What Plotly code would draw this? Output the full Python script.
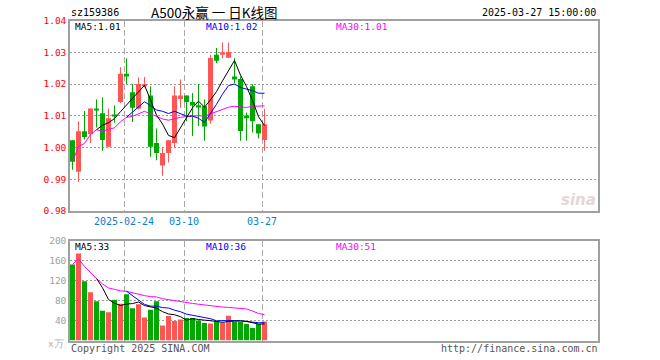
import plotly.graph_objects as go

# ---------------- data ----------------
candle_idx = list(range(33))
opens = [1.0023, 0.9924, 1.0051, 1.0042, 1.0121, 1.0108, 1.0002, 1.0101, 1.0143, 1.0232,
         1.0174, 1.0123, 1.0193, 1.0164, 1.0014, 0.9943, 0.9983, 1.0014, 1.0153, 1.0164,
         1.0143, 1.0132, 1.0130, 1.0085, 1.0292, 1.0292, 1.0283, 1.0224, 1.0216, 1.0101,
         1.0193, 1.0073, 1.0024]
highs = [1.0023, 1.0083, 1.0115, 1.0123, 1.0151, 1.0158, 1.0123, 1.0133, 1.0253, 1.0281,
         1.0200, 1.0221, 1.0222, 1.0193, 1.0060, 1.0000, 1.0023, 1.0193, 1.0214, 1.0164,
         1.0172, 1.0200, 1.0151, 1.0292, 1.0313, 1.0331, 1.0331, 1.0281, 1.0224, 1.0110,
         1.0199, 1.0073, 1.0122]
lows = [0.9930, 0.9891, 1.0025, 1.0013, 1.0063, 0.9990, 1.0002, 1.0078, 1.0140, 1.0200,
        1.0080, 1.0120, 1.0190, 0.9971, 0.9960, 0.9911, 0.9953, 1.0000, 1.0125, 1.0083,
        1.0036, 1.0068, 1.0021, 1.0075, 1.0265, 1.0281, 1.0283, 1.0203, 1.0021, 1.0021,
        1.0047, 1.0028, 0.9990]
closes = [0.9955, 1.0051, 1.0033, 1.0123, 1.0118, 1.0024, 1.0092, 1.0099, 1.0232, 1.0224,
          1.0125, 1.0200, 1.0200, 1.0002, 0.9983, 0.9983, 1.0023, 1.0164, 1.0164, 1.0143,
          1.0132, 1.0129, 1.0066, 1.0282, 1.0273, 1.0300, 1.0301, 1.0214, 1.0052, 1.0092,
          1.0083, 1.0044, 1.0073]
volumes = [153, 175, 119, 97, 79, 60, 57, 82, 74, 93,
           65, 73, 46, 62, 79, 30, 49, 39, 42, 45,
           45, 40, 35, 34, 38, 35, 50, 37, 37, 33,
           25, 33, 38]

ma5_price = [None, None, None, None, 1.0056, 1.0070, 1.0078, 1.0091, 1.0113, 1.0134,
             1.0154, 1.0176, 1.0196, 1.0150, 1.0102, 1.0074, 1.0038, 1.0031, 1.0063, 1.0095,
             1.0125, 1.0146, 1.0127, 1.0150, 1.0176, 1.0210, 1.0244, 1.0274, 1.0228, 1.0192,
             1.0148, 1.0097, 1.0069]
ma10_price = [None, None, None, None, None, None, None, None, None, 1.0095,
              1.0112, 1.0127, 1.0144, 1.0132, 1.0118, 1.0114, 1.0107, 1.0114, 1.0107, 1.0099,
              1.0099, 1.0092, 1.0079, 1.0107, 1.0136, 1.0168, 1.0195, 1.0200, 1.0189, 1.0184,
              1.0179, 1.0171, 1.0171]
ma30_price = [0.9955, 1.0003, 1.0013, 1.0041, 1.0056, 1.0051, 1.0057, 1.0062, 1.0081, 1.0095,
              1.0098, 1.0106, 1.0114, 1.0106, 1.0097, 1.0090, 1.0086, 1.0091, 1.0095, 1.0097,
              1.0099, 1.0100, 1.0099, 1.0106, 1.0113, 1.0120, 1.0127, 1.0130, 1.0127, 1.0126,
              1.0130, 1.0130, 1.0131]
ma5_vol = [None, None, None, None, 124.6, 106, 82.4, 75, 70.4, 73.2,
           74.2, 77.4, 70.2, 67.8, 65, 58, 53.2, 51.8, 47.8, 41,
           44, 42.2, 41.4, 39.8, 38.4, 36.4, 38.4, 38.8, 39.4, 38.4,
           36.4, 33, 33.2]
ma10_vol = [None, None, None, None, None, None, None, None, None, 98.9,
            90.1, 79.9, 72.6, 69.1, 69.1, 66.1, 65.3, 61, 57.8, 53,
            51, 47.7, 46.6, 43.8, 39.7, 40.2, 40.3, 40.1, 39.6, 38.4,
            36.4, 35.7, 36]
ma30_vol = [153, 164, 149, 136, 124.6, 113.8, 105.7, 102.8, 99.6, 98.9,
            95.8, 93.9, 90.2, 88.2, 87.6, 84, 81.9, 79.6, 77.6, 76,
            74.5, 72.9, 71.3, 69.7, 68.4, 67.2, 66.5, 65.5, 64.5, 63.4,
            59.2, 54.4, 51.7]

date_tick_idx = [9, 19, 32]
date_tick_text = ["2025-02-24", "03-10", "03-27"]
price_ticks = [0.98, 0.99, 1.00, 1.01, 1.02, 1.03, 1.04]
price_tick_text = ["0.98", "0.99", "1.00", "1.01", "1.02", "1.03", "1.04"]
vol_ticks = [40, 80, 120, 160, 200]
vol_tick_text = ["40", "80", "120", "160", "200"]

code = "sz159386"
title = "A500永赢 一 日K线图"
timestamp = "2025-03-27 15:00:00"
price_legend = ["MA5:1.01", "MA10:1.02", "MA30:1.01"]
vol_legend = ["MA5:33", "MA10:36", "MA30:51"]

# ---------------- style ----------------
RED = "#ff5555"
GREEN = "#00a800"
MONO = "DejaVu Sans Mono"
W, H = 660, 360

def px_x(p):
    return p / W

def px_y(p):
    return 1 - p / H

colors = [RED if c >= o else GREEN for o, c in zip(opens, closes)]
body_base = [min(o, c) for o, c in zip(opens, closes)]
body_h = [max(abs(c - o), 0.0004) for o, c in zip(opens, closes)]
wick_h = [h - l for h, l in zip(highs, lows)]

fig = go.Figure()

# price panel
fig.add_trace(go.Bar(x=candle_idx, y=wick_h, base=lows, width=1 / 6,
                     marker=dict(color=colors, line=dict(width=0)),
                     xaxis="x", yaxis="y", showlegend=False, hoverinfo="skip"))
fig.add_trace(go.Bar(x=candle_idx, y=body_h, base=body_base, width=5 / 6,
                     marker=dict(color=colors, line=dict(width=0)),
                     xaxis="x", yaxis="y", showlegend=False))
for ys, col in [(ma30_price, "#ff00ff"), (ma10_price, "#0000ff"), (ma5_price, "#000000")]:
    fig.add_trace(go.Scatter(x=candle_idx, y=ys, mode="lines",
                             line=dict(color=col, width=1),
                             xaxis="x", yaxis="y", showlegend=False))

# volume panel
fig.add_trace(go.Bar(x=candle_idx, y=volumes, width=5 / 6,
                     marker=dict(color=colors, line=dict(width=0)),
                     xaxis="x2", yaxis="y2", showlegend=False))
for ys, col in [(ma30_vol, "#ff00ff"), (ma10_vol, "#0000ff"), (ma5_vol, "#000000")]:
    fig.add_trace(go.Scatter(x=candle_idx, y=ys, mode="lines",
                             line=dict(color=col, width=1),
                             xaxis="x2", yaxis="y2", showlegend=False))

left_px, right_px = 70, 598
x_range = [-2.5 / 6, (right_px - 72.5) / 6]
grid_x = [i - 2.5 / 6 for i in date_tick_idx]

axis_common = dict(showline=True, mirror=True, linecolor="#a0a0a0", linewidth=1.5,
                   zeroline=False, automargin=False, fixedrange=True)

fig.update_layout(
    width=W, height=H,
    margin=dict(l=0, r=0, t=0, b=0),
    paper_bgcolor="white", plot_bgcolor="white",
    barmode="overlay",
    xaxis=dict(domain=[px_x(left_px), px_x(right_px)], range=x_range,
               tickmode="array", tickvals=grid_x, ticktext=date_tick_text,
               tickfont=dict(family=MONO, size=10, color="#0a7fd0"),
               ticks="", showgrid=True, gridcolor="#aaaaaa", griddash="6px,3px",
               gridwidth=1, anchor="y", **axis_common),
    yaxis=dict(domain=[px_y(211), px_y(20.5)], range=[0.98, 1.04],
               tickmode="array", tickvals=price_ticks, ticktext=price_tick_text,
               tickfont=dict(family=MONO, size=9.5, color="#ff0000"),
               ticks="", showgrid=True, gridcolor="#999999", griddash="2px,2px",
               gridwidth=1, anchor="x", **axis_common),
    xaxis2=dict(domain=[px_x(left_px), px_x(right_px)], range=x_range,
                tickmode="array", tickvals=grid_x, showticklabels=False,
                ticks="", showgrid=True, gridcolor="#aaaaaa", griddash="6px,3px",
                gridwidth=1, anchor="y2", **axis_common),
    yaxis2=dict(domain=[px_y(340.5), px_y(241)], range=[0, 200],
                tickmode="array", tickvals=vol_ticks, ticktext=vol_tick_text,
                tickfont=dict(family=MONO, size=9.5, color="#a0a0a0"),
                ticks="", showgrid=True, gridcolor="#999999", griddash="2px,2px",
                gridwidth=1, anchor="x2", **axis_common),
)

def note(text, x, y, color="#000000", size=10, anchor="left", family=MONO, **kw):
    fig.add_annotation(text=text, x=px_x(x), y=px_y(y), xref="paper", yref="paper",
                       xanchor=anchor, yanchor="middle", showarrow=False,
                       font=dict(family=family, size=size, color=color), **kw)

note(code, 69, 12.5, size=10)
note(title, 214, 12, size=13.5, anchor="center", family="Noto Sans CJK SC")
note(timestamp, 598, 12.5, size=10, anchor="right")

legend_colors = ["#000000", "#0000ff", "#ff00ff"]
legend_x = [73, 204, 334]
for t, c, x in zip(price_legend, legend_colors, legend_x):
    note(t, x, 26.5, color=c, size=9.5)
for t, c, x in zip(vol_legend, legend_colors, legend_x):
    note(t, x, 246.5, color=c, size=9.5)

note("x万", 66, 343.5, color="#b0b0b0", size=9.5, anchor="right")
note("Copyright 2025 SINA.COM", 69, 348, color="#555555", size=10)
note("http://finance.sina.com.cn", 600, 348, color="#555555", size=10, anchor="right")
note("<b><i>sina</i></b>", 578, 200, color="#e6d6d6", size=15, anchor="center",
     family="DejaVu Sans")

fig.write_html("out.html", config={"displayModeBar": False},
               post_script="document.body.style.margin='0px';")
